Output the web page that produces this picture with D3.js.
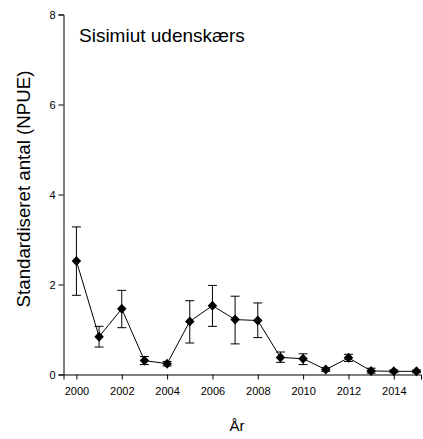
<!DOCTYPE html>
<html><head><meta charset="utf-8">
<script src="https://cdn.jsdelivr.net/npm/d3@7"></script>
<style>body{margin:0;background:#fff}svg{display:block}text{font-family:"Liberation Sans",Arial,sans-serif}</style>
</head><body>
<svg id="c" width="423" height="439"></svg>
<script>
const years = [2000,2001,2002,2003,2004,2005,2006,2007,2008,2009,2010,2011,2012,2013,2014,2015];
const npue  = [2.52,0.84,1.46,0.31,0.24,1.18,1.53,1.22,1.20,0.38,0.35,0.11,0.37,0.08,0.07,0.07];
const upper = [3.28,1.07,1.87,0.40,0.29,1.64,1.98,1.74,1.59,0.50,0.46,0.15,0.45,0.14,0.10,0.10];
const lower = [1.76,0.61,1.04,0.22,0.19,0.70,1.07,0.68,0.82,0.27,0.22,0.07,0.29,0.03,0.04,0.04];
const xTicks = [2000,2002,2004,2006,2008,2010,2012,2014];
const yTicks = [0,2,4,6,8];

const svg = d3.select("#c");
const x = d3.scaleLinear().domain([1999.43, 2015.2]).range([63.5, 421]);
const y = d3.scaleLinear().domain([0, 8]).range([374.5, 14.5]);

const gx = svg.append("g").attr("transform","translate(0,374.5)")
  .call(d3.axisBottom(x).tickValues(xTicks).tickFormat(d3.format("d")).tickSizeOuter(0).tickSize(5).tickPadding(8));
const gy = svg.append("g").attr("transform","translate(63.5,0)")
  .call(d3.axisLeft(y).tickValues(yTicks).tickSizeOuter(0).tickSize(5).tickPadding(3));
[gx,gy].forEach(g=>{
  g.selectAll("text").attr("font-size",11).attr("fill","#000").style("font-family","Liberation Sans, Arial, sans-serif");
  g.selectAll("line,path").attr("stroke","#000");
});

const data = years.map((yr,i)=>({yr, v:npue[i], hi:upper[i], lo:lower[i]}));
const cap = 4.5;
const eb = svg.append("g").attr("stroke","#000").attr("stroke-width",1);
data.forEach(d=>{
  const cx = x(d.yr);
  eb.append("line").attr("x1",cx).attr("x2",cx).attr("y1",y(d.hi)).attr("y2",y(d.lo));
  eb.append("line").attr("x1",cx-cap).attr("x2",cx+cap).attr("y1",y(d.hi)).attr("y2",y(d.hi));
  eb.append("line").attr("x1",cx-cap).attr("x2",cx+cap).attr("y1",y(d.lo)).attr("y2",y(d.lo));
});

svg.append("path").datum(data)
  .attr("fill","none").attr("stroke","#000").attr("stroke-width",1)
  .attr("d", d3.line().x(d=>x(d.yr)).y(d=>y(d.v)));

const diamond = {draw(ctx, size){
  const h = Math.sqrt(size/2), w = h*0.95;
  ctx.moveTo(0,-h); ctx.lineTo(w,0); ctx.lineTo(0,h); ctx.lineTo(-w,0); ctx.closePath();
}};
svg.append("g").selectAll("path").data(data).join("path")
  .attr("transform", d=>`translate(${x(d.yr)},${y(d.v)})`)
  .attr("d", d3.symbol().type(diamond).size(50))
  .attr("fill","#000");

svg.append("text").attr("x",79).attr("y",42).attr("font-size",19).text("Sisimiut udenskærs");
svg.append("text").attr("transform","translate(30,189) rotate(-90)").attr("text-anchor","middle")
  .attr("font-size",18.7).text("Standardiseret antal (NPUE)");
svg.append("text").attr("x",237).attr("y",431).attr("text-anchor","middle").attr("font-size",15).text("År");
</script>
</body></html>
